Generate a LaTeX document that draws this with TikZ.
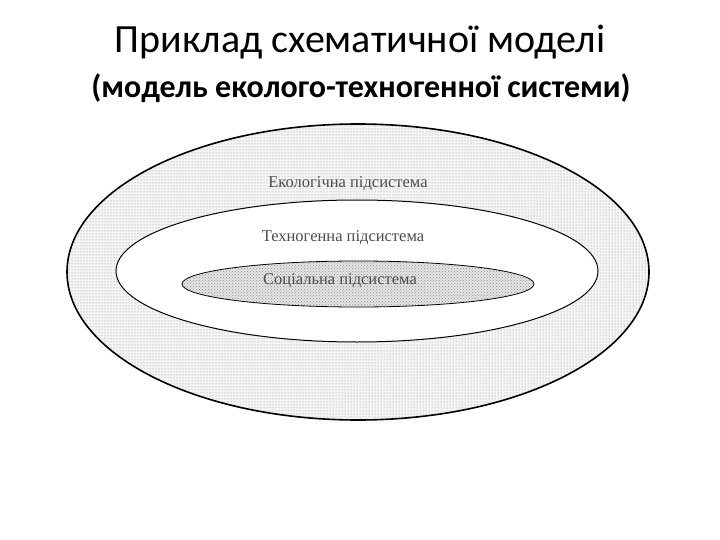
\documentclass[tikz,border=0pt]{standalone}
\usepackage{fontspec}
\setmainfont{Carlito}
\newfontfamily\serifx{Liberation Serif}
\usetikzlibrary{patterns}
\begin{document}
\begin{tikzpicture}[x=1pt,y=-1pt,
  lab/.style={font=\serifx\fontsize{16.5}{18}\selectfont, text=black!70}]
\useasboundingbox (0,0) rectangle (720,540);
\node (t1) at (360,42) {\fontsize{40}{44}\selectfont Приклад схематичної моделі};
\node (t2) at (361,88) {\fontsize{32}{36}\selectfont\bfseries (модель еколого-техногенної системи)};
\path[fill=black!4] (358,272) ellipse [x radius=291, y radius=148];
\path[pattern=dots, pattern color=black!45] (358,272) ellipse [x radius=291, y radius=148];
\draw[line width=1.6pt] (358,272) ellipse [x radius=291, y radius=148];
\draw[fill=white, line width=1pt] (357,271) ellipse [x radius=241, y radius=71];
\path[fill=black!10] (358,284) ellipse [x radius=176, y radius=23];
\path[pattern=crosshatch dots, pattern color=black!45] (358,284) ellipse [x radius=176, y radius=23];
\draw[line width=0.8pt] (358,284) ellipse [x radius=176, y radius=23];
\node[lab] (e) at (348,184) {Екологічна підсистема};
\node[lab] (t) at (343,238) {Техногенна підсистема};
\node[lab] (s) at (340,281) {Соціальна підсистема};
\end{tikzpicture}
\end{document}
